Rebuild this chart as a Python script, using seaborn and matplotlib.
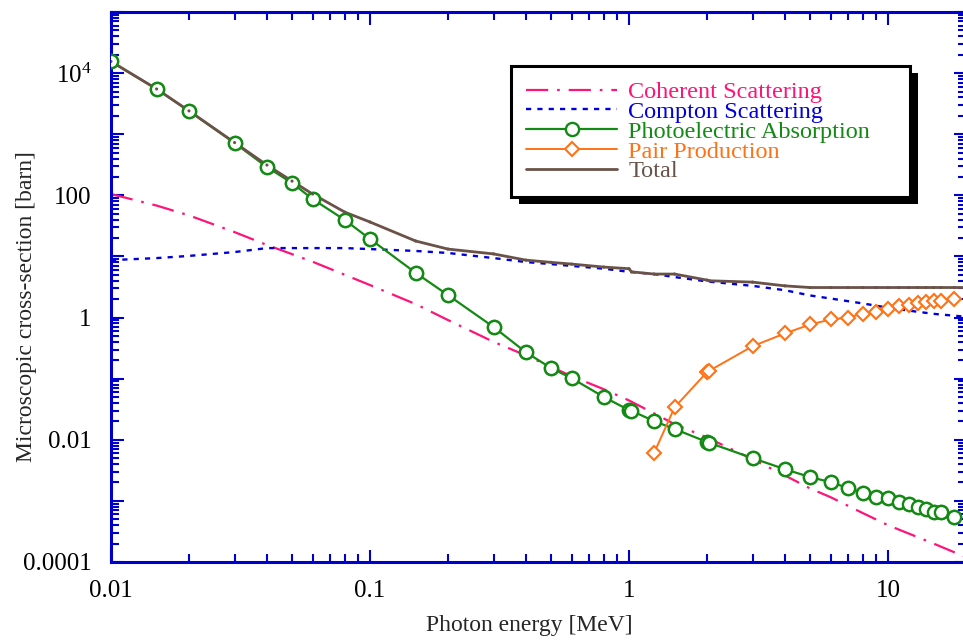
import matplotlib
matplotlib.use("Agg")
import matplotlib.pyplot as plt
import seaborn as sns
import pandas as pd
from matplotlib import patheffects as pe
from matplotlib.ticker import FixedLocator, FixedFormatter, LogLocator, NullFormatter

# ---------------- data ----------------
pe_energy = [0.01, 0.015, 0.02, 0.03, 0.04, 0.05, 0.06, 0.08, 0.1, 0.15, 0.2, 0.3, 0.4,
             0.5, 0.6, 0.8, 1.0, 1.022, 1.25, 1.5, 2.0, 2.044, 3, 4, 5, 6, 7, 8, 9, 10,
             11, 12, 13, 14, 15, 16, 18]
pe_xs = [15500, 5500, 2400, 718, 290, 159, 87, 39.4, 19.3, 5.4, 2.33, 0.70, 0.27,
         0.149, 0.102, 0.050, 0.0306, 0.0298, 0.0202, 0.015, 0.0092, 0.0089, 0.0050,
         0.0033, 0.00245, 0.00203, 0.00162, 0.00135, 0.00116, 0.00111, 0.00096,
         0.00089, 0.00079, 0.00074, 0.00066, 0.00066, 0.00054]

total_energy = [0.01, 0.015, 0.02, 0.03, 0.04, 0.05, 0.06, 0.08, 0.1, 0.15, 0.2, 0.3, 0.4,
                0.5, 0.6, 0.8, 1.0, 1.022, 1.25, 1.5, 2.0, 2.044, 3, 4, 5, 6, 7, 8, 9, 10,
                11, 12, 13, 14, 15, 16, 18, 20]
total_xs = [15500, 5500, 2410, 730, 313, 171, 105, 53, 36.6, 17.9, 13.2, 11.0, 8.7,
            8.0, 7.5, 6.7, 6.3, 5.6, 5.15, 5.15, 4.1, 4.0, 3.8, 3.3, 3.1, 3.1, 3.1, 3.1,
            3.1, 3.1, 3.1, 3.1, 3.1, 3.1, 3.1, 3.1, 3.1, 3.1]

compton_energy = [0.01, 0.015, 0.02, 0.03, 0.04, 0.05, 0.06, 0.08, 0.1, 0.15, 0.2, 0.3,
                  0.4, 0.5, 0.6, 0.8, 1.0, 1.25, 1.5, 2, 3, 4, 5, 6, 8, 10, 12, 15, 20]
compton_xs = [8.7, 9.4, 10.2, 11.8, 13.7, 13.7, 13.7, 13.7, 13.2, 12.3, 11.4, 9.4, 8.1,
              7.5, 7.0, 6.3, 5.6, 5.15, 4.6, 3.9, 3.3, 2.8, 2.3, 2.05, 1.7, 1.45, 1.3,
              1.15, 1.03]

coherent_energy = [0.01, 0.015, 0.02, 0.03, 0.04, 0.05, 0.06, 0.08, 0.1, 0.15, 0.2, 0.3,
                   0.4, 0.5, 0.6, 0.8, 1.0, 1.25, 1.5, 2, 3, 4, 5, 6, 8, 10, 15, 20]
coherent_xs = [105, 68, 47, 25, 15.4, 10.9, 8.2, 5.0, 3.4, 1.66, 0.91, 0.40, 0.24, 0.156,
               0.11, 0.067, 0.044, 0.027, 0.018, 0.0109, 0.0048, 0.0026, 0.0016, 0.00115,
               0.00063, 0.0004, 0.0002, 0.00012]

pair_energy = [1.25, 1.5, 2.0, 2.044, 3, 4, 5, 6, 7, 8, 9, 10, 11, 12, 13, 14, 15, 16, 18]
pair_xs = [0.0061, 0.034, 0.128, 0.135, 0.34, 0.55, 0.77, 0.93, 1.0, 1.16, 1.25, 1.4,
           1.57, 1.63, 1.75, 1.82, 1.9, 1.9, 2.04]

series_labels = ["Coherent Scattering", "Compton Scattering", "Photoelectric Absorption",
                 "Pair Production", "Total"]
x_ticks = [0.01, 0.1, 1, 10]
x_tick_labels = ["0.01", "0.1", "1", "10"]
y_ticks = [1e-4, 1e-3, 1e-2, 1e-1, 1, 10, 100, 1e3, 1e4, 1e5]
y_tick_labels = ["0.0001", "", "0.01", "", "1", "", "100", "", r"$10^4$", ""]
x_label = "Photon energy [MeV]"
y_label = "Microscopic cross-section [barn]"

# ---------------- style ----------------
c_coh = "#ff1477"
c_comp = "#0000dd"
c_pe = "#138a13"
c_pair = "#ff7216"
c_tot = "#6a5249"
c_axis = "#0000cc"

sns.set_theme(style="ticks")
plt.rcParams["font.family"] = ["Liberation Serif", "DejaVu Serif"]
plt.rcParams["mathtext.fontset"] = "custom"
plt.rcParams["mathtext.rm"] = "Liberation Serif"
plt.rcParams["mathtext.it"] = "Liberation Serif:italic"

fig = plt.figure(figsize=(9.63, 6.44), dpi=100)
ax = fig.add_axes([111 / 963, 1 - 562 / 644, 855 / 963, 550 / 644])

df_coh = pd.DataFrame({"E": coherent_energy, "s": coherent_xs})
df_comp = pd.DataFrame({"E": compton_energy, "s": compton_xs})
df_pe = pd.DataFrame({"E": pe_energy, "s": pe_xs})
df_pair = pd.DataFrame({"E": pair_energy, "s": pair_xs})
df_tot = pd.DataFrame({"E": total_energy, "s": total_xs})

handles = []

n = len(ax.lines)
sns.lineplot(data=df_coh, x="E", y="s", ax=ax, color=c_coh, lw=1.6,
             estimator=None, sort=False, legend=False, zorder=2)
ax.lines[n].set_linestyle((0, (10, 4, 1.2, 4)))
handles.append(ax.lines[n])

n = len(ax.lines)
sns.lineplot(data=df_comp, x="E", y="s", ax=ax, color=c_comp, lw=1.7,
             estimator=None, sort=False, legend=False, zorder=2)
ax.lines[n].set_linestyle((0, (2.2, 2.6)))
handles.append(ax.lines[n])

n = len(ax.lines)
sns.lineplot(data=df_pe, x="E", y="s", ax=ax, color=c_pe, lw=1.6, marker="o",
             markersize=9.5, markerfacecolor="white", markeredgecolor=c_pe,
             markeredgewidth=1.7, estimator=None, sort=False, legend=False, zorder=3)
handles.append(ax.lines[n])

n = len(ax.lines)
sns.lineplot(data=df_pair, x="E", y="s", ax=ax, color=c_pair, lw=1.4, marker="D",
             markersize=7.5, markerfacecolor="white", markeredgecolor=c_pair,
             markeredgewidth=1.5, estimator=None, sort=False, legend=False, zorder=3)
handles.append(ax.lines[n])

n = len(ax.lines)
sns.lineplot(data=df_tot, x="E", y="s", ax=ax, color=c_tot, lw=2.0,
             estimator=None, sort=False, legend=False, zorder=3.5)
handles.append(ax.lines[n])

# circles drawn again above the total line, with the total's tiny points on top
sns.scatterplot(data=df_pe, x="E", y="s", ax=ax, marker="o", s=90, color="white",
                edgecolor=c_pe, linewidth=1.7, legend=False, zorder=4)
sns.scatterplot(data=df_tot, x="E", y="s", ax=ax, marker="o", s=5, color=c_tot,
                edgecolor="none", legend=False, zorder=5)

ax.set_xscale("log")
ax.set_yscale("log")
ax.set_xlim(0.01, 20)
ax.set_ylim(1e-4, 1e5)

ax.xaxis.set_major_locator(FixedLocator(x_ticks))
ax.xaxis.set_major_formatter(FixedFormatter(x_tick_labels))
ax.xaxis.set_minor_locator(LogLocator(base=10, subs=range(2, 10), numticks=50))
ax.xaxis.set_minor_formatter(NullFormatter())
ax.yaxis.set_major_locator(FixedLocator(y_ticks))
ax.yaxis.set_major_formatter(FixedFormatter(y_tick_labels))
ax.yaxis.set_minor_locator(LogLocator(base=10, subs=range(2, 10), numticks=50))
ax.yaxis.set_minor_formatter(NullFormatter())

ax.tick_params(which="both", direction="in", top=True, right=True, color=c_axis,
               width=1.5, labelsize=18, labelcolor="black")
ax.tick_params(which="major", length=9)
ax.tick_params(which="minor", length=5.5)
ax.tick_params(axis="x", which="both", pad=13)
ax.tick_params(axis="y", which="both", pad=14)

for sp in ax.spines.values():
    sp.set_color(c_axis)
    sp.set_linewidth(2.2)
    sp.set_visible(True)

ax.set_xlabel(x_label, fontsize=17)
ax.set_ylabel(y_label, fontsize=17)
ax.xaxis.set_label_coords(0.489, -0.096)
ax.yaxis.set_label_coords(-0.0865, 0.465)

leg = ax.legend(handles, series_labels, loc="upper left", mode="expand",
                bbox_to_anchor=(0.4678, 0.5, 0.4667, 0.4018), borderaxespad=0,
                fontsize=17.5, frameon=True, fancybox=False, framealpha=1,
                edgecolor="black", labelspacing=-0.09, handlelength=3.75,
                handletextpad=0.45, borderpad=0.62)
leg.set_zorder(10)
frame = leg.get_frame()
frame.set_linewidth(2.2)
frame.set_path_effects([pe.SimplePatchShadow(offset=(5.5, -5), shadow_rgbFace="black",
                                             alpha=1.0), pe.Normal()])
for txt, col in zip(leg.get_texts(), [c_coh, c_comp, c_pe, c_pair, c_tot]):
    txt.set_color(col)

fig.savefig("out.png", dpi=100)
